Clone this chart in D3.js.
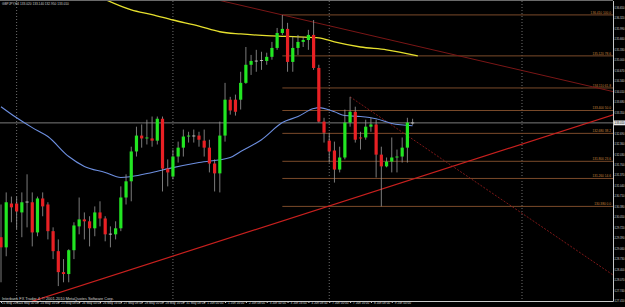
<!DOCTYPE html>
<html>
<head>
<meta charset="utf-8">
<script src="https://cdn.jsdelivr.net/npm/d3@7"></script>
<style>
  html, body { margin: 0; padding: 0; background: #000; overflow: hidden; }
  text { font-family: "Liberation Sans", "DejaVu Sans", sans-serif; }
</style>
</head>
<body>
<svg id="chart"></svg>
<script>
// GBPJPY H4 candles, 21 May 2010 12:00 .. 9 Jun 2010 16:00
var opens  = [129.41,129.09,130.47,130.47,130.19,130.51,130.51,129.56,130.63,130.44,
              129.60,128.97,128.31,128.25,129.00,129.75,129.97,129.91,129.69,130.19,
              130.00,129.50,129.50,129.69,130.66,131.17,132.11,132.61,132.52,132.52,
              132.45,133.14,131.57,131.32,131.95,132.23,132.58,132.61,132.61,132.45,
              132.23,131.73,131.42,132.61,133.74,133.74,133.74,134.27,134.84,134.96,
              134.97,134.96,135.09,135.37,135.84,135.97,134.93,135.37,135.56,135.62,
              135.78,134.74,133.05,132.45,132.14,131.54,131.92,133.02,133.36,132.55,
              132.55,132.89,132.96,132.01,131.64,131.79,131.92,131.95,132.23,133.02];
var highs  = [130.44,130.82,130.69,130.69,130.82,131.39,130.82,130.69,130.82,130.51,
              129.72,129.34,128.72,129.03,129.88,130.66,130.19,130.07,130.38,130.54,
              130.07,129.75,129.91,131.01,131.39,132.26,132.89,132.96,133.11,133.21,
              133.21,133.21,131.86,132.17,132.42,132.80,132.73,132.80,132.73,132.80,
              132.48,131.86,133.05,134.27,133.83,133.90,134.62,135.40,135.15,135.31,
              135.25,135.22,135.56,136.00,136.41,136.16,135.72,135.78,135.72,135.94,
              136.25,134.84,133.17,132.70,132.42,132.26,133.43,133.83,133.52,132.73,
              133.11,133.17,133.11,132.26,131.92,132.55,132.17,132.55,133.17,133.14];
var lows   = [127.99,128.81,129.88,129.66,129.41,129.72,129.12,129.44,130.07,129.34,
              128.72,127.87,127.99,127.99,128.72,129.50,129.34,129.12,129.44,129.75,
              129.28,129.09,129.34,129.60,130.44,130.54,131.95,132.23,132.33,132.26,
              132.33,130.85,131.01,131.23,131.76,131.95,132.39,132.39,132.26,131.95,
              131.45,130.85,130.82,132.42,133.27,133.24,133.43,134.24,134.52,134.62,
              134.68,134.84,135.00,135.31,135.78,134.62,134.62,135.15,135.40,135.31,
              134.68,133.02,132.39,131.76,131.13,131.45,131.86,132.89,132.39,132.17,
              132.48,132.73,131.29,130.38,131.61,131.45,131.45,131.76,131.76,132.95];
var closes = [129.09,130.51,130.35,130.22,130.51,130.53,129.56,130.63,130.38,129.60,
              128.97,128.31,128.25,129.00,129.78,129.97,129.91,129.69,130.19,130.00,
              129.50,129.52,129.69,130.66,131.17,132.11,132.61,132.52,132.55,132.45,
              133.14,131.57,131.45,131.95,132.23,132.58,132.61,132.60,132.48,132.23,
              131.73,131.42,132.61,133.74,133.40,133.36,134.27,134.84,134.96,134.97,
              134.99,135.09,135.37,135.84,135.97,134.93,135.37,135.56,135.62,135.78,
              134.74,133.05,132.70,132.11,131.54,131.92,133.02,133.36,132.48,132.52,
              132.89,132.96,132.01,131.64,131.79,131.92,131.95,132.23,133.02,133.01];

// moving averages (bar index, price)
var blueMaIdx = [0,3,6,9,13,16,20,23,25,29,33,38,44,46,50,54,57,60,61,64,66,69,72,75,79];
var blueMaVal = [133.52,133.17,132.86,132.58,131.95,131.64,131.45,131.29,131.32,131.45,
                 131.60,131.76,131.92,132.11,132.48,133.02,133.21,133.46,133.49,133.36,
                 133.24,133.21,133.14,132.99,132.92];
var yellowMaIdx = [19,25,29,33,38,42,46,52,57,61,64,69,74,80];
var yellowMaVal = [136.97,136.57,136.42,136.25,136.06,135.88,135.81,135.75,135.72,135.69,
                   135.56,135.40,135.31,135.12];

// price axis labels
var priceTicks = [136.65,136.32,135.99,135.66,135.33,135.00,134.67,134.34,134.01,133.68,
                  133.35,133.02,132.69,132.36,132.03,131.70,131.37,131.04,130.71,130.38,
                  130.05,129.72,129.39,129.06,128.73,128.40,128.07,127.74,127.41];
var lastPrice = 133.01;

// time axis labels
var timeIdx = [0,3,7,11,15,19,23,27,31,35,39,43,47,51,55,59,63,67,71,75];
var timeLabels = ["21 May 2010","24 May 00:00","24 May 16:00","25 May 08:00","26 May 00:00",
                  "26 May 16:00","27 May 08:00","28 May 00:00","28 May 16:00","31 May 08:00",
                  "1 Jun 00:00","1 Jun 16:00","2 Jun 08:00","3 Jun 00:00","3 Jun 16:00",
                  "4 Jun 08:00","7 Jun 00:00","7 Jun 16:00","8 Jun 08:00","9 Jun 00:00"];
var separatorIdx = [3,33,63,100];

// fibonacci retracement (from bar 54 high to bar 73 low)
var fibStartIdx = 54;
var fibNames  = ["0.0","14.6","23.6","38.2","50.0","61.8","78.6","100.0"];
var fibPrices = [130.38,131.26,131.80,132.68,133.40,134.11,135.12,136.41];

// trend lines: [idx1, price1, idx2, price2]
var upLine     = [20, 128.13, 110, 132.87];
var downLine   = [54, 136.41, 110, 134.28];
var dottedLine = [67, 133.83, 110, 129.05];

var W = 625, H = 307;
var plot = {left: 0, right: 613, top: 1, bottom: 301};
var fs = "3.2px";

var x = d3.scaleLinear().domain([0, 79]).range([1, 412.6]);
var y = d3.scaleLinear().domain([127.41, 136.65]).range([300.7, 7.3]);

var svg = d3.select("#chart").attr("width", W).attr("height", H);
svg.append("rect").attr("width", W).attr("height", H).attr("fill", "#000");

svg.append("clipPath").attr("id", "plotClip")
  .append("rect")
  .attr("x", plot.left).attr("y", plot.top)
  .attr("width", plot.right - plot.left).attr("height", plot.bottom - plot.top);

var g = svg.append("g").attr("clip-path", "url(#plotClip)");

// period separators
g.selectAll(".sep").data(separatorIdx).enter().append("line")
  .attr("x1", function(d) { return x(d); }).attr("x2", function(d) { return x(d); })
  .attr("y1", plot.top).attr("y2", plot.bottom)
  .attr("stroke", "#8a8a8a").attr("stroke-width", 0.8).attr("stroke-dasharray", "1,2");

// fib levels
var fibs = fibPrices.map(function(p, i) { return {p: p, name: fibNames[i]}; });
g.selectAll(".fib").data(fibs).enter().append("line")
  .attr("x1", x(fibStartIdx)).attr("x2", plot.right)
  .attr("y1", function(d) { return y(d.p); }).attr("y2", function(d) { return y(d.p); })
  .attr("stroke", "#7a4a2a").attr("stroke-width", 1);
g.selectAll(".fibtxt").data(fibs).enter().append("text")
  .attr("x", plot.right - 2).attr("y", function(d) { return y(d.p) - 1; })
  .attr("text-anchor", "end").attr("font-size", fs).attr("fill", "#c8843c")
  .text(function(d) { return d.p.toFixed(3) + "   " + d.name; });

// current price line
g.append("line")
  .attr("x1", plot.left).attr("x2", plot.right)
  .attr("y1", y(lastPrice)).attr("y2", y(lastPrice))
  .attr("stroke", "#9a9a9a").attr("stroke-width", 0.8);

// trend lines, extended across the plot
function drawLine(l, color, width, dash, leftToo) {
  var slope = (l[3] - l[1]) / (l[2] - l[0]);
  var i0 = leftToo ? -5 : l[0], i1 = 125;
  g.append("line")
    .attr("x1", x(i0)).attr("y1", y(l[1] + slope * (i0 - l[0])))
    .attr("x2", x(i1)).attr("y2", y(l[1] + slope * (i1 - l[0])))
    .attr("stroke", color).attr("stroke-width", width)
    .attr("stroke-dasharray", dash);
}
drawLine(downLine, "#7a1616", 1, null, true);
drawLine(upLine, "#c8201e", 1.2, null, true);
drawLine(dottedLine, "#8a1a1a", 0.9, "2,1.5", false);

// moving averages
var line = d3.line().curve(d3.curveMonotoneX)
  .x(function(d) { return x(d[0]); }).y(function(d) { return y(d[1]); });
g.append("path").datum(yellowMaIdx.map(function(d, i) { return [d, yellowMaVal[i]]; }))
  .attr("d", line).attr("fill", "none").attr("stroke", "#e6e02e").attr("stroke-width", 1.3);
g.append("path").datum(blueMaIdx.map(function(d, i) { return [d, blueMaVal[i]]; }))
  .attr("d", line).attr("fill", "none").attr("stroke", "#6d8fe0").attr("stroke-width", 1.1);

// candles
var bars = opens.map(function(o, i) {
  return {i: i, o: o, h: highs[i], l: lows[i], c: closes[i]};
});
var cg = g.selectAll(".bar").data(bars).enter().append("g");
cg.append("line")
  .attr("x1", function(d) { return x(d.i); }).attr("x2", function(d) { return x(d.i); })
  .attr("y1", function(d) { return y(d.h); }).attr("y2", function(d) { return y(d.l); })
  .attr("stroke", "#9a9a9a").attr("stroke-width", 0.8);
cg.append("rect")
  .attr("x", function(d) { return x(d.i) - 1.6; })
  .attr("width", 3.2)
  .attr("y", function(d) { return y(Math.max(d.o, d.c)); })
  .attr("height", function(d) { return Math.max(0.8, Math.abs(y(d.o) - y(d.c))); })
  .attr("fill", function(d) {
    if (Math.abs(d.o - d.c) < 0.025) return "#d8d8d8";
    return d.c > d.o ? "#22e622" : "#e82024";
  });

// title and copyright
svg.append("text").attr("x", 2).attr("y", 5).attr("font-size", fs).attr("fill", "#d0d0d0")
  .text("GBPJPY,H4  133.020 133.140 132.950 133.010");
svg.append("text").attr("x", 2).attr("y", 299.5).attr("font-size", "3.9px").attr("fill", "#d0d0d0")
  .text("Interbank FX Trader 4, \u00a9 2001-2010 MetaQuotes Software Corp.");

// price axis (labels squeezed into the narrow strip right of the plot)
var yAxis = svg.append("g").attr("transform", "translate(" + plot.right + ",0)")
  .call(d3.axisRight(y).tickValues(priceTicks).tickSize(1.2).tickSizeOuter(0)
        .tickFormat(d3.format(".3f")));
yAxis.select(".domain").attr("stroke", "#c8c8c8").attr("d", "M0.5," + plot.top + "V" + plot.bottom);
yAxis.selectAll(".tick line").attr("stroke", "#c8c8c8");
yAxis.selectAll(".tick text").attr("x", 1.6).attr("font-size", fs).attr("fill", "#d0d0d0")
  .attr("textLength", 10).attr("lengthAdjust", "spacingAndGlyphs")
  .attr("font-family", "Liberation Sans, sans-serif");

// last price box
svg.append("rect").attr("x", plot.right + 1).attr("y", y(lastPrice) - 2.4)
  .attr("width", 11).attr("height", 4.8).attr("fill", "#e8e8e8");
svg.append("text").attr("x", plot.right + 1.6).attr("y", y(lastPrice) + 1.2)
  .attr("font-size", fs).attr("fill", "#000")
  .attr("textLength", 10).attr("lengthAdjust", "spacingAndGlyphs")
  .text(lastPrice.toFixed(3));

// time axis
var xAxis = svg.append("g").attr("transform", "translate(0," + plot.bottom + ")")
  .call(d3.axisBottom(x).tickValues(timeIdx).tickSize(2).tickSizeOuter(0)
        .tickFormat(function(d, i) { return timeLabels[i]; }));
xAxis.select(".domain").attr("stroke", "#c8c8c8").attr("d", "M" + plot.left + ",0.5H" + plot.right);
xAxis.selectAll(".tick line").attr("stroke", "#c8c8c8");
xAxis.selectAll(".tick text").attr("text-anchor", "start")
  .attr("dx", function(d, i) { return i === 0 ? 0.5 : 2.5; }).attr("y", 1)
  .attr("font-size", "3.1px").attr("fill", "#d0d0d0")
  .attr("font-family", "Liberation Sans, sans-serif");

// top border
svg.append("line").attr("x1", 0).attr("x2", plot.right).attr("y1", 0.5).attr("y2", 0.5)
  .attr("stroke", "#6a6a6a").attr("stroke-width", 1);
</script>
</body>
</html>
